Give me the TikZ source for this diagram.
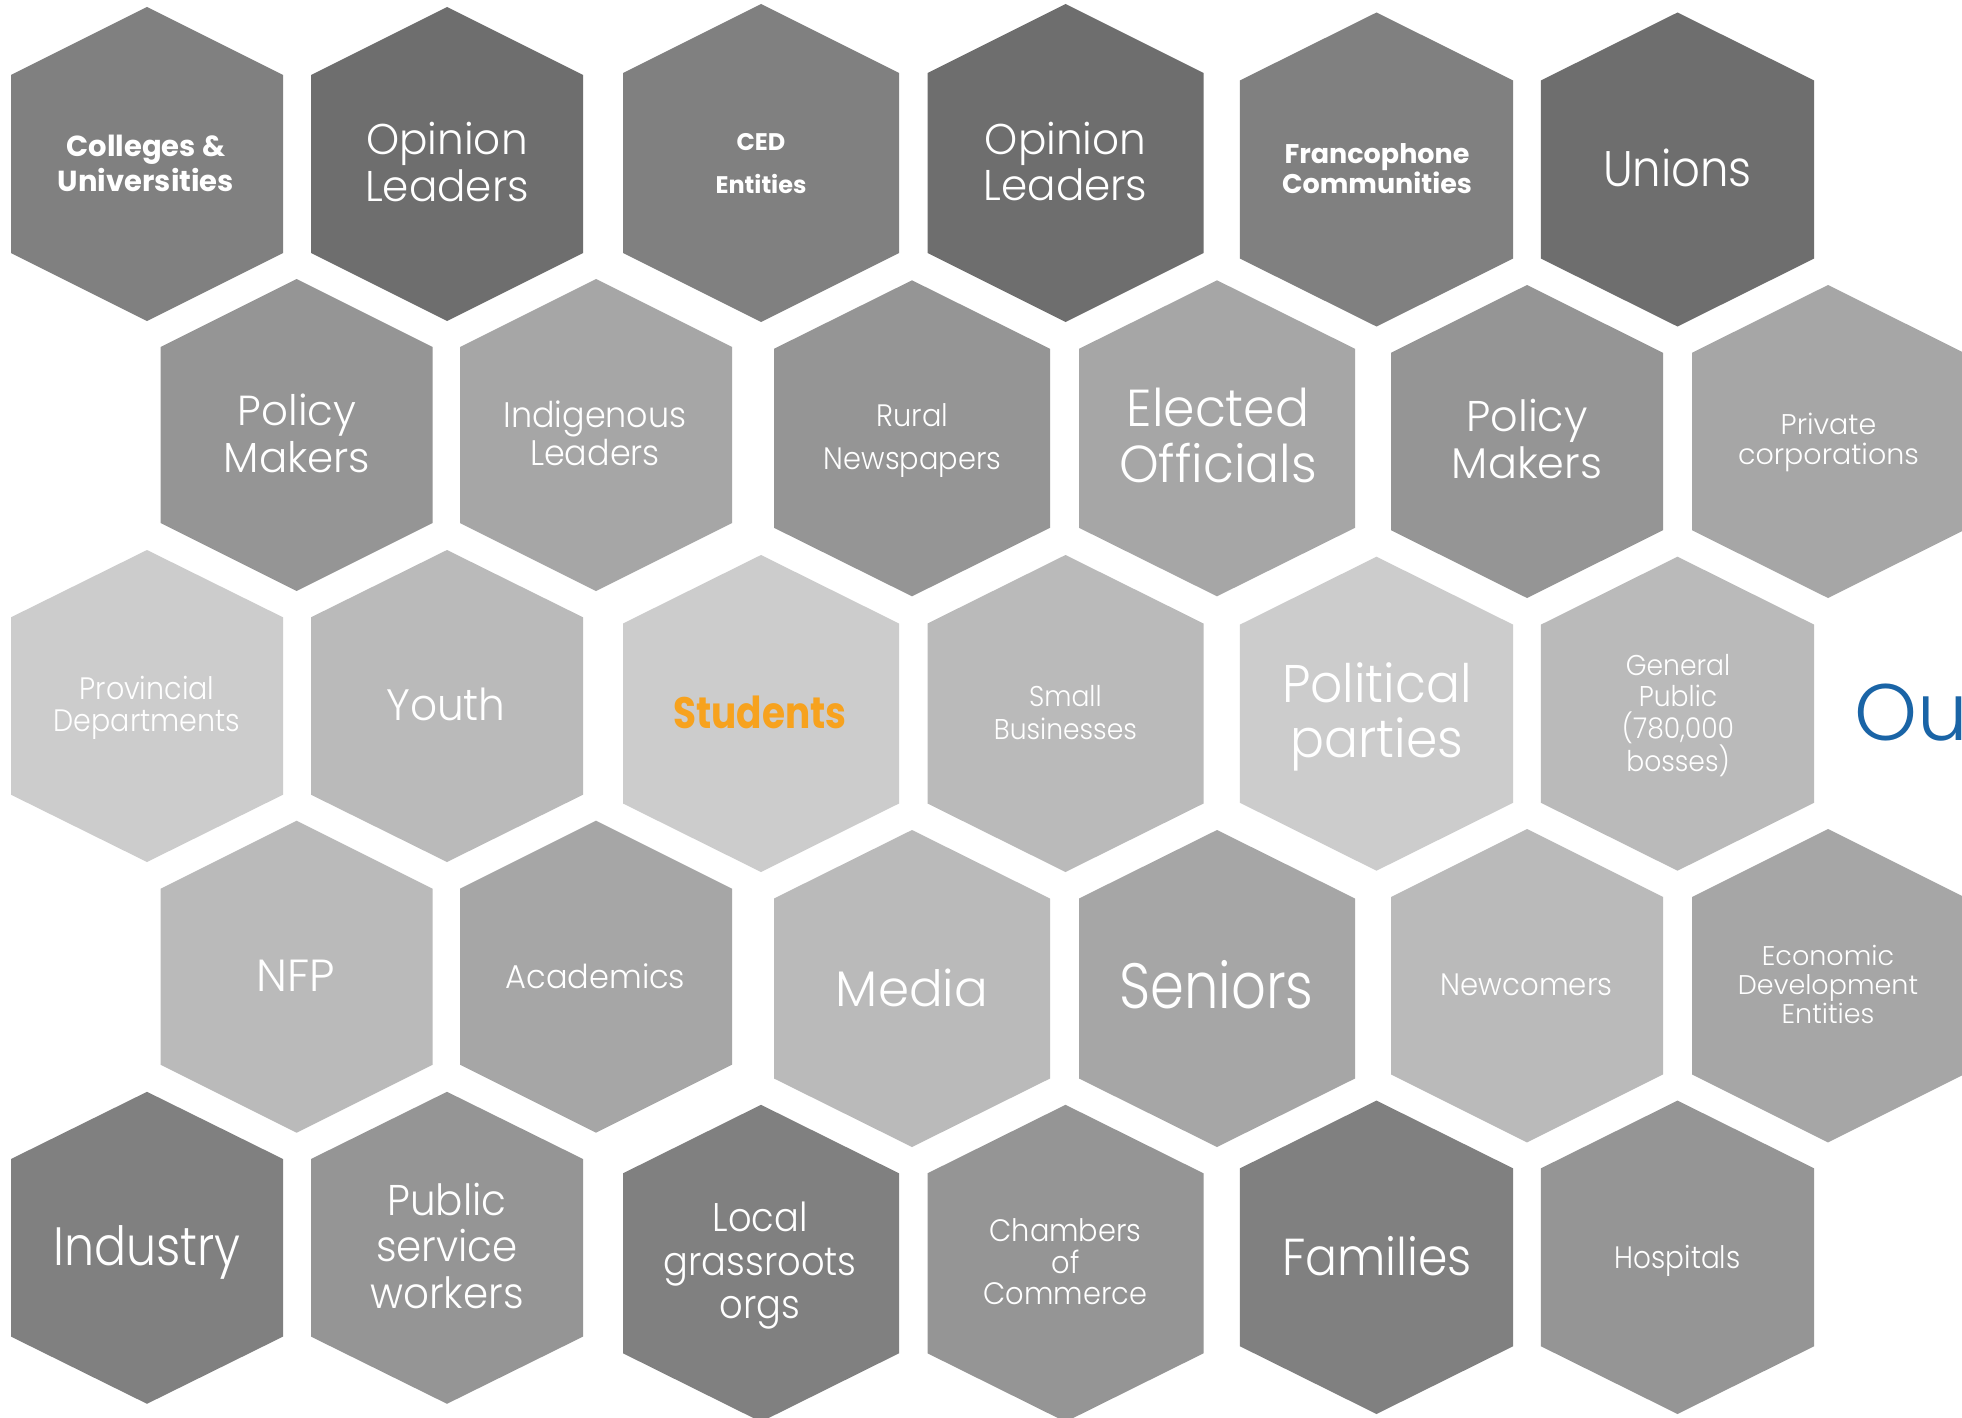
\documentclass[tikz,border=0pt]{standalone}
\usepackage{fontspec}
\IfFontExistsTF{Poppins Light}{\setmainfont{Poppins Light}}{\setmainfont{Poppins}}
\newfontfamily\bfam{Poppins}
\definecolor{gA}{HTML}{6E6E6E}
\definecolor{gB}{HTML}{808080}
\definecolor{gC}{HTML}{959595}
\definecolor{gD}{HTML}{A6A6A6}
\definecolor{gE}{HTML}{BABABA}
\definecolor{gF}{HTML}{CCCCCC}
\definecolor{orng}{HTML}{F7A21E}
\definecolor{blu}{HTML}{1A64A6}
\newcommand\fsz[2]{\fontsize{#1}{#2}\selectfont}
\newcommand\strch[1]{\addfontfeature{FakeStretch=#1}}
\newcommand\hexa[6]{\fill[#6] ({#1},{#2-#4}) -- ({#1+#3},{#2-#5}) -- ({#1+#3},{#2+#5}) -- ({#1},{#2+#4}) -- ({#1-#3},{#2+#5}) -- ({#1-#3},{#2-#5}) -- cycle;}
\tikzset{lbl/.style={text=white, align=center, inner sep=0pt}}
\begin{document}
\begin{tikzpicture}[x=1pt,y=-1pt]
\fill[white] (0,0) rectangle (1962,1418);
\useasboundingbox (0,0) rectangle (1962,1418);
% row 1
\hexa{147}{164}{136}{157}{89}{gB}
\hexa{447}{164}{136}{157}{89}{gA}
\hexa{761}{163}{138}{159}{90}{gB}
\hexa{1065.5}{163}{138}{159}{90}{gA}
\hexa{1376.5}{169.5}{136.7}{157}{89}{gB}
\hexa{1677.5}{169.5}{136.7}{157}{89}{gA}
% row 2
\hexa{296.6}{435}{136}{156}{88}{gC}
\hexa{596}{435}{136}{156}{88}{gD}
\hexa{912}{438.3}{138}{158}{89.5}{gC}
\hexa{1217}{438.3}{138}{158}{89.5}{gD}
\hexa{1527}{441.5}{136}{156.5}{88.7}{gC}
\hexa{1828}{441.5}{136}{156.5}{88.7}{gD}
% row 3
\hexa{147}{706}{136}{156}{88.7}{gF}
\hexa{447}{706}{136}{156}{88.7}{gE}
\hexa{761}{713.5}{138}{158.5}{90}{gF}
\hexa{1065.5}{713.5}{138}{158.5}{90}{gE}
\hexa{1376.5}{713.7}{136.7}{157}{89}{gF}
\hexa{1677.5}{713.7}{136.7}{157}{89}{gE}
% row 4
\hexa{296.6}{976.7}{136}{156}{88}{gE}
\hexa{596}{976.7}{136}{156}{88}{gD}
\hexa{912}{988.5}{138}{158.5}{90}{gE}
\hexa{1217}{988.5}{138}{158.5}{90}{gD}
\hexa{1527}{985.7}{136}{156.7}{88.7}{gE}
\hexa{1828}{985.7}{136}{156.7}{88.7}{gD}
% row 5
\hexa{147}{1247.8}{136}{156}{88.8}{gB}
\hexa{447}{1247.8}{136}{156}{88.8}{gC}
\hexa{761}{1263.3}{138}{158.5}{90}{gB}
\hexa{1065.5}{1263.3}{138}{158.5}{90}{gC}
\hexa{1376.5}{1257.3}{136.7}{156.7}{88.9}{gB}
\hexa{1677.5}{1257.3}{136.7}{156.7}{88.9}{gC}
% labels row 1
\node[lbl, font=\bfam\bfseries\fsz{29}{35}] (colleges) at (146,163.5) {Colleges \&\\Universities};
\node[lbl, font=\fsz{43}{47}\strch{0.98}] (opl1) at (447,162.5) {Opinion\\Leaders};
\node[lbl, font=\bfam\bfseries\fsz{24}{43}] (ced) at (761,163.3) {CED\\Entities};
\node[lbl, font=\fsz{43}{46}\strch{0.98}] (opl2) at (1065.5,161.6) {Opinion\\Leaders};
\node[lbl, font=\bfam\bfseries\fsz{27}{30}] (franco) at (1377,168.3) {Francophone\\Communities};
\node[lbl, font=\fsz{50}{50}\strch{0.9}, anchor=base] (unions) at (1677.5,186.7) {Unions};
% labels row 2
\node[lbl, font=\fsz{42}{47}] (pm1) at (297,433.3) {Policy\\Makers};
\node[lbl, font=\fsz{35.5}{38}\strch{0.94}] (indig) at (595,432.9) {Indigenous\\Leaders};
\node[lbl, font=\fsz{31}{43}\strch{0.93}] (rural) at (912.5,440.2) {Rural\\Newspapers};
\node[lbl, font=\fsz{52}{56}\strch{0.97}] (elected) at (1218,435.6) {Elected\\Officials};
\node[lbl, font=\fsz{43}{46.6}] (pm2) at (1527,439.1) {Policy\\Makers};
\node[lbl, font=\fsz{28.5}{30}] (private) at (1828.5,442.6) {Private\\corporations};
% labels row 3
\node[lbl, font=\fsz{31}{31.7}\strch{0.92}] (prov) at (147,707.6) {Provincial\\Departments};
\node[lbl, font=\fsz{44}{44}\strch{0.96}, anchor=base] (youth) at (446,720) {Youth};
\node[lbl, text=orng, font=\bfam\bfseries\fsz{44}{44}\strch{0.85}, anchor=base] (students) at (760,728.3) {Students};
\node[lbl, font=\fsz{28.6}{33}\strch{0.93}] (small) at (1065.4,712.8) {Small\\Businesses};
\node[lbl, font=\fsz{53}{55}\strch{0.95}] (political) at (1377,716.6) {Political\\parties};
\node[lbl, font=\fsz{28.6}{31.7}\strch{0.93}] (general) at (1678,715.4) {General\\Public\\(780,000\\bosses)};
\node[lbl, text=blu, font=\fsz{80}{80}, anchor=base west] (ou) at (1854,740) {Ou};
% labels row 4
\node[lbl, font=\fsz{45}{45}, anchor=base] (nfp) at (296,991.7) {NFP};
\node[lbl, font=\fsz{33}{33}\strch{0.97}, anchor=base] (acad) at (595.5,988.3) {Academics};
\node[lbl, font=\fsz{50}{50}, anchor=base] (media) at (912,1006.7) {Media};
\node[lbl, font=\fsz{64}{64}\strch{0.85}, anchor=base] (seniors) at (1216.5,1008.3) {Seniors};
\node[lbl, font=\fsz{31}{31}\strch{0.94}, anchor=base] (newcomers) at (1526.6,995) {Newcomers};
\node[lbl, font=\fsz{27}{29.2}] (econ) at (1828,984.2) {Economic\\Development\\Entities};
% labels row 5
\node[lbl, font=\fsz{54}{54}\strch{0.88}, anchor=base] (industry) at (147,1265) {Industry};
\node[lbl, font=\fsz{43}{46.5}\strch{0.94}] (public) at (447,1245.6) {Public\\service\\workers};
\node[lbl, font=\fsz{40}{43.5}\strch{0.92}] (local) at (760,1265.9) {Local\\grassroots\\orgs};
\node[lbl, font=\fsz{31}{31.7}\strch{0.93}] (chambers) at (1065.5,1261.9) {Chambers\\of\\Commerce};
\node[lbl, font=\fsz{52}{52}\strch{0.91}, anchor=base] (families) at (1377,1275) {Families};
\node[lbl, font=\fsz{31}{31}\strch{0.9}, anchor=base] (hospitals) at (1677.7,1268.3) {Hospitals};
\end{tikzpicture}
\end{document}
